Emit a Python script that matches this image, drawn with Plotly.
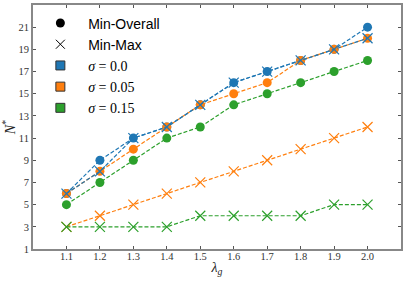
import plotly.graph_objects as go

lam = [1.1, 1.2, 1.3, 1.4, 1.5, 1.6, 1.7, 1.8, 1.9, 2.0]
x_ticks = [1.1, 1.2, 1.3, 1.4, 1.5, 1.6, 1.7, 1.8, 1.9, 2.0]
y_ticks = [1, 3, 5, 7, 9, 11, 13, 15, 17, 19, 21]

sigmas = ["0.0", "0.05", "0.15"]
colors = ["#1f77b4", "#ff7f0e", "#2ca02c"]

min_overall = {
    "0.0":  [6, 9, 11, 12, 14, 16, 17, 18, 19, 21],
    "0.05": [6, 8, 10, 12, 14, 15, 16, 18, 19, 20],
    "0.15": [5, 7, 9, 11, 12, 14, 15, 16, 17, 18],
}
min_max = {
    "0.0":  [6, 8, 11, 12, 14, 16, 17, 18, 19, 20],
    "0.05": [3, 4, 5, 6, 7, 8, 9, 10, 11, 12],
    "0.15": [3, 3, 3, 3, 4, 4, 4, 4, 5, 5],
}

fig = go.Figure()

SANS = "Liberation Sans, Arial, sans-serif"
SERIF = "Liberation Serif, serif"
PAD = "\u00a0" * 2
DASH = "4px,2px"

# legend entries
fig.add_trace(go.Scatter(x=[None], y=[None], mode="markers", name=PAD + "Min-Overall",
                         legendgroup="a",
                         marker=dict(symbol="circle", size=9, color="black")))
fig.add_trace(go.Scatter(x=[None], y=[None], mode="markers", name=PAD + "Min-Max",
                         legendgroup="b",
                         marker=dict(symbol="x-thin", size=9, color="black",
                                     line=dict(color="black", width=1))))
for i, (s, c) in enumerate(zip(sigmas, colors)):
    fig.add_trace(go.Scatter(
        x=[None], y=[None], mode="markers",
        name=f"{PAD}<span style='font-family:{SERIF}'><i>σ</i> = {s}</span>",
        legendgroup=f"s{i}",
        marker=dict(symbol="square", size=9, color=c, line=dict(color="#333", width=1))))

# circles (Min-Overall)
for s, c in zip(sigmas, colors):
    fig.add_trace(go.Scatter(
        x=lam, y=min_overall[s], mode="lines+markers", showlegend=False,
        line=dict(color=c, width=1.2, dash=DASH),
        marker=dict(symbol="circle", size=9, color=c)))
# crosses (Min-Max)
for s, c in zip(sigmas, colors):
    fig.add_trace(go.Scatter(
        x=lam, y=min_max[s], mode="lines+markers", showlegend=False,
        line=dict(color=c, width=1.2, dash=DASH),
        marker=dict(symbol="x-thin", size=10, color=c, line=dict(color=c, width=1.2))))

axis_common = dict(
    showline=True, mirror="ticks", linecolor="#888", linewidth=2,
    ticks="inside", ticklen=3, tickwidth=1, tickcolor="#555",
    showgrid=False, zeroline=False, automargin=False,
    tickfont=dict(family=SERIF, size=10.5, color="#333"),
)

fig.update_layout(
    width=407, height=283,
    margin=dict(l=33, r=6, t=5, b=34),
    paper_bgcolor="white", plot_bgcolor="white",
    xaxis=dict(range=[1.0, 2.1], tickvals=x_ticks,
               ticktext=[f"{v:.1f}" for v in x_ticks],
               ticklabelstandoff=-4,
               title=dict(text="<i>λ</i><sub><i>g</i></sub>", standoff=2,
                          font=dict(family=SERIF, size=14, color="#222")),
               **axis_common),
    yaxis=dict(range=[1, 23], tickvals=y_ticks,
               title=dict(text="<i>N</i><sup>*</sup>", standoff=2,
                          font=dict(family=SERIF, size=14, color="#222")),
               **axis_common),
    legend=dict(x=0.02, y=0.99, xanchor="left", yanchor="top",
                bgcolor="rgba(0,0,0,0)", borderwidth=0,
                tracegroupgap=0,
                font=dict(family=SANS, size=14, color="black")),
    showlegend=True,
)

fig.write_html("out.html", config={"displayModeBar": False},
               post_script="document.body.style.margin='0px';")
